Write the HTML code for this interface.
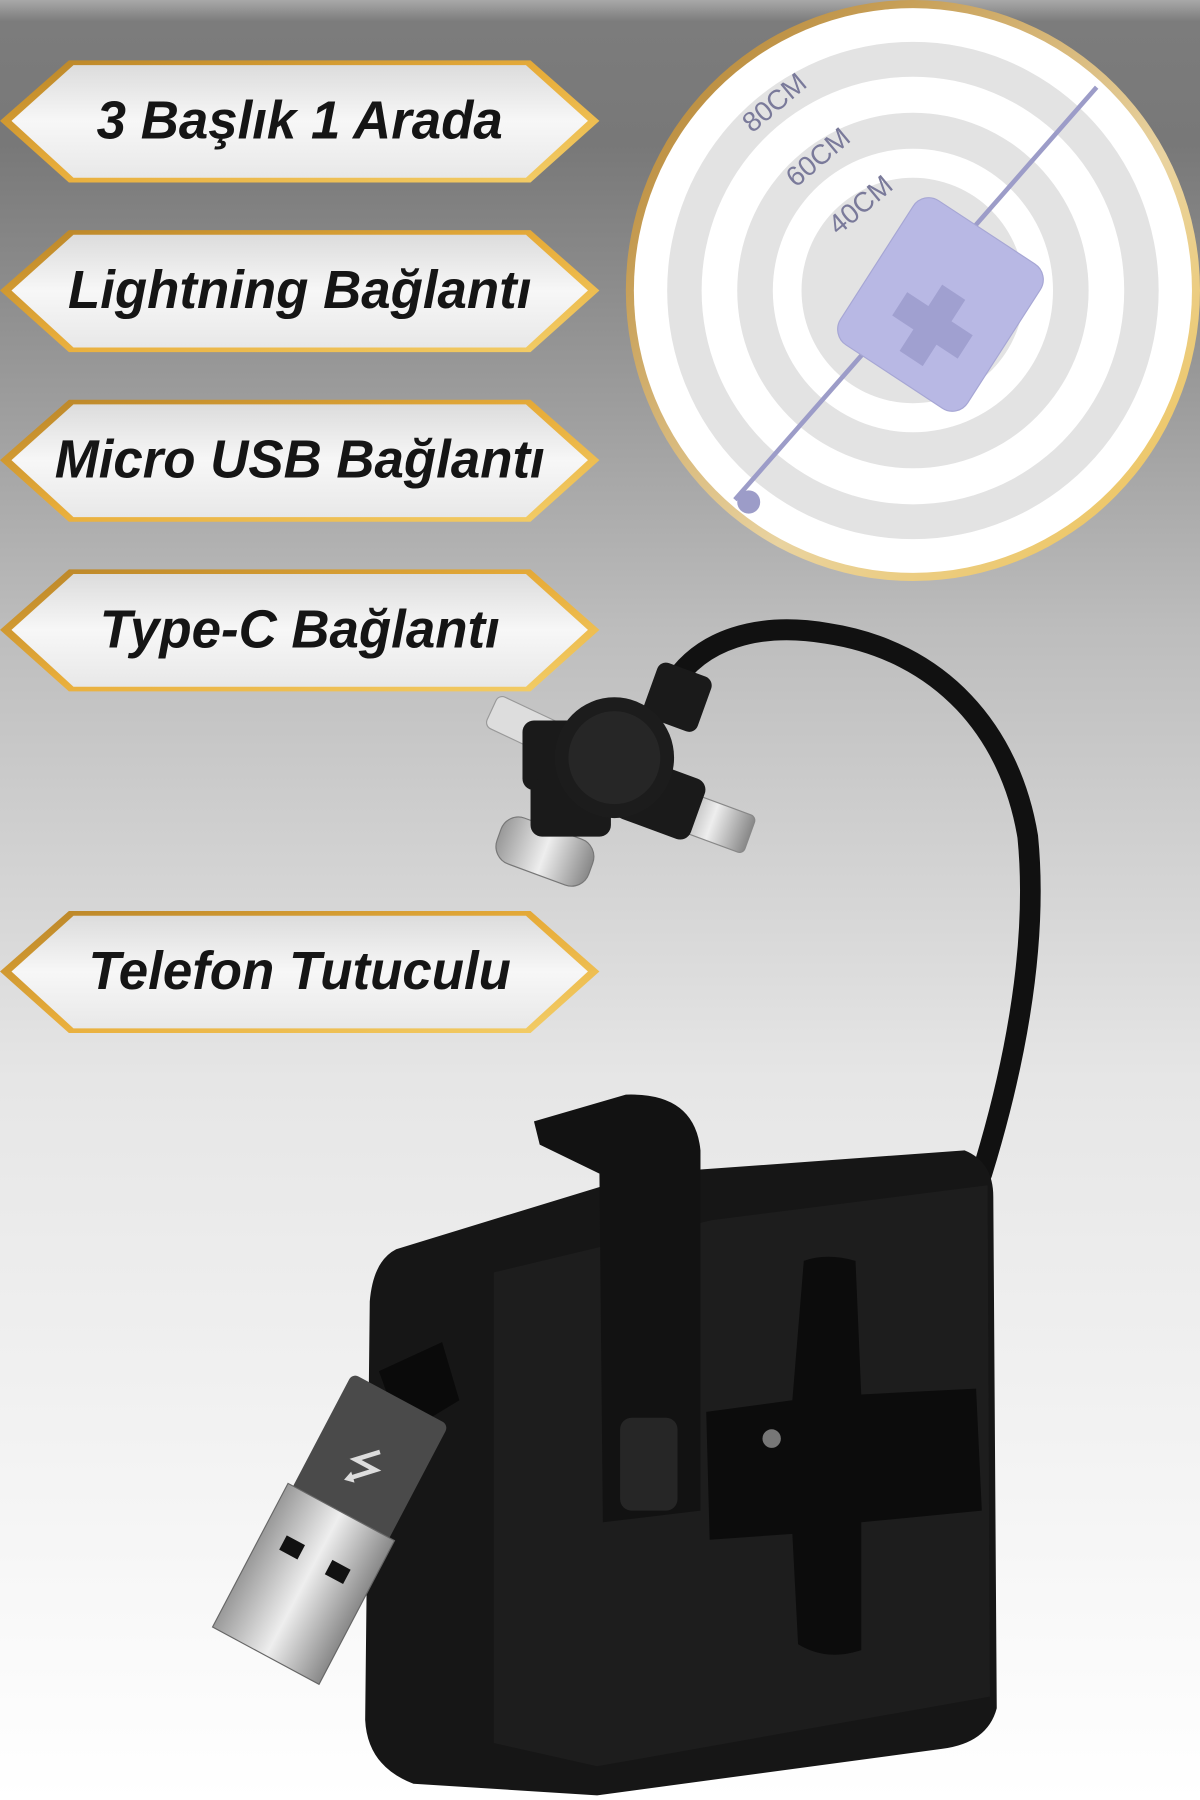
<!DOCTYPE html>
<html><head><meta charset="utf-8"><style>
html,body{margin:0;padding:0;width:1200px;height:1800px;overflow:hidden}
svg{display:block}
</style></head><body>
<svg width="1200" height="1800" viewBox="0 0 1045 1549" preserveAspectRatio="none" xmlns="http://www.w3.org/2000/svg">
<defs>
<linearGradient id="bg" x1="0" y1="0" x2="0" y2="1">
<stop offset="0" stop-color="#a8a8a8"/><stop offset="0.012" stop-color="#7c7c7c"/>
<stop offset="0.08" stop-color="#787878"/><stop offset="0.35" stop-color="#bdbdbd"/>
<stop offset="0.6" stop-color="#e6e6e6"/><stop offset="1" stop-color="#ffffff"/>
</linearGradient>
<linearGradient id="gold" x1="0" y1="0" x2="1" y2="1">
<stop offset="0" stop-color="#b88428"/><stop offset="0.5" stop-color="#e8ad3a"/><stop offset="1" stop-color="#f3cf6a"/>
</linearGradient>
<linearGradient id="wb" x1="0" y1="0" x2="0" y2="1">
<stop offset="0" stop-color="#dcdcdc"/><stop offset="0.5" stop-color="#f7f7f7"/><stop offset="1" stop-color="#e8e8e8"/>
</linearGradient>
<linearGradient id="ring" x1="0" y1="0" x2="1" y2="1">
<stop offset="0" stop-color="#b07c26"/><stop offset="0.6" stop-color="#e9d3a0"/><stop offset="1" stop-color="#f0c24d"/>
</linearGradient>
<linearGradient id="silver" x1="0" y1="0" x2="1" y2="0">
<stop offset="0" stop-color="#999"/><stop offset="0.5" stop-color="#eee"/><stop offset="1" stop-color="#888"/>
</linearGradient>
</defs>
<rect width="1045" height="1549" fill="url(#bg)"/>

<g font-family="Liberation Sans, sans-serif" font-weight="bold" font-style="italic" font-size="46" fill="#151515" text-anchor="middle">
<g>
<polygon points="0,104 60,52 462,52 522,104 462,157 60,157" fill="url(#gold)"/>
<polygon points="10,104 64,56 458,56 512,104 458,153 64,153" fill="url(#wb)"/>
<text x="261" y="119">3 Başlık 1 Arada</text></g>
<g transform="translate(0,146)">
<polygon points="0,104 60,52 462,52 522,104 462,157 60,157" fill="url(#gold)"/>
<polygon points="10,104 64,56 458,56 512,104 458,153 64,153" fill="url(#wb)"/>
<text x="261" y="119">Lightning Bağlantı</text></g>
<g transform="translate(0,292)">
<polygon points="0,104 60,52 462,52 522,104 462,157 60,157" fill="url(#gold)"/>
<polygon points="10,104 64,56 458,56 512,104 458,153 64,153" fill="url(#wb)"/>
<text x="261" y="119">Micro USB Bağlantı</text></g>
<g transform="translate(0,438)">
<polygon points="0,104 60,52 462,52 522,104 462,157 60,157" fill="url(#gold)"/>
<polygon points="10,104 64,56 458,56 512,104 458,153 64,153" fill="url(#wb)"/>
<text x="261" y="119">Type-C Bağlantı</text></g>
<g transform="translate(0,732)">
<polygon points="0,104 60,52 462,52 522,104 462,157 60,157" fill="url(#gold)"/>
<polygon points="10,104 64,56 458,56 512,104 458,153 64,153" fill="url(#wb)"/>
<text x="261" y="119">Telefon Tutuculu</text></g>
</g>

<circle cx="795" cy="250" r="250" fill="url(#ring)"/>
<circle cx="795" cy="250" r="243" fill="#fff"/>
<circle cx="795" cy="250" r="214" fill="#e3e3e3"/>
<circle cx="795" cy="250" r="184" fill="#fff"/>
<circle cx="795" cy="250" r="153" fill="#e3e3e3"/>
<circle cx="795" cy="250" r="122" fill="#fff"/>
<circle cx="795" cy="250" r="97" fill="#e3e3e3"/>
<line x1="955" y1="75" x2="640" y2="430" stroke="#9c9cc8" stroke-width="4"/>
<rect x="753" y="188" width="132" height="148" rx="16" fill="#b8b8e4" stroke="#a6a6d4" transform="rotate(33 819 262)"/>
<g fill="#a0a0d0" transform="rotate(33 812 280)">
<rect x="778" y="268" width="68" height="24"/>
<rect x="800" y="246" width="24" height="68"/>
</g>
<g font-family="Liberation Sans, sans-serif" font-size="24" fill="#7a7a9a">
<text x="655" y="115" transform="rotate(-40 655 115)">80CM</text>
<text x="693" y="162" transform="rotate(-40 693 162)">60CM</text>
<text x="730" y="203" transform="rotate(-40 730 203)">40CM</text>
</g>
<circle cx="652" cy="432" r="10" fill="#9c9cc8"/>

<path d="M585,590 C610,550 660,535 720,545 C820,560 880,630 895,720 C905,820 880,930 855,1010" fill="none" stroke="#111" stroke-width="18" stroke-linecap="round"/>
<g>
<rect x="425" y="610" width="65" height="30" rx="6" fill="#ddd" stroke="#999" transform="rotate(25 458 625)"/>
<rect x="585" y="690" width="70" height="34" rx="5" fill="url(#silver)" stroke="#888" transform="rotate(20 620 707)"/>
<rect x="432" y="712" width="85" height="42" rx="16" fill="url(#silver)" stroke="#777" transform="rotate(20 475 733)"/>
<rect x="565" y="575" width="50" height="50" rx="8" fill="#1a1a1a" transform="rotate(20 590 600)"/>
<rect x="455" y="620" width="70" height="60" rx="10" fill="#1a1a1a"/>
<rect x="540" y="660" width="70" height="55" rx="10" fill="#1a1a1a" transform="rotate(20 575 687)"/>
<rect x="462" y="670" width="70" height="50" rx="10" fill="#1a1a1a"/>
<circle cx="535" cy="652" r="52" fill="#1c1c1c"/>
<circle cx="535" cy="652" r="40" fill="#262626"/>
</g>

<path d="M345,1075 L560,1010 L840,990 Q865,1000 865,1030 L868,1470 Q860,1500 820,1505 L520,1545 L360,1535 Q320,1520 318,1480 L322,1120 Q325,1085 345,1075 Z" fill="#161616"/>
<path d="M430,1095 L620,1050 L860,1020 L862,1460 L520,1520 L430,1500 Z" fill="#1d1d1d"/>
<path d="M465,965 L545,942 Q605,940 610,990 L610,1300 L525,1310 L522,1010 L470,985 Z" fill="#121212"/>
<rect x="540" y="1220" width="50" height="80" rx="10" fill="#262626"/>
<path d="M700,1085 Q720,1078 745,1085 L750,1200 L850,1195 L855,1300 L750,1310 L750,1420 Q720,1430 695,1415 L690,1320 L618,1325 L615,1215 L690,1205 Z" fill="#0c0c0c"/>
<circle cx="672" cy="1238" r="8" fill="#777"/>
<path d="M330,1180 L385,1155 L400,1205 L350,1235 Z" fill="#0a0a0a"/>
<g transform="rotate(28 290 1320)">
<rect x="240" y="1190" width="95" height="115" rx="6" fill="#4a4a4a"/>
<rect x="235" y="1300" width="105" height="140" fill="url(#silver)" stroke="#666"/>
<rect x="255" y="1340" width="18" height="14" fill="#111"/>
<rect x="300" y="1340" width="18" height="14" fill="#111"/>
<text x="287" y="1270" font-family="DejaVu Sans, sans-serif" font-size="40" fill="#ddd" text-anchor="middle">⭍</text>
</g>
</svg>
</body></html>
